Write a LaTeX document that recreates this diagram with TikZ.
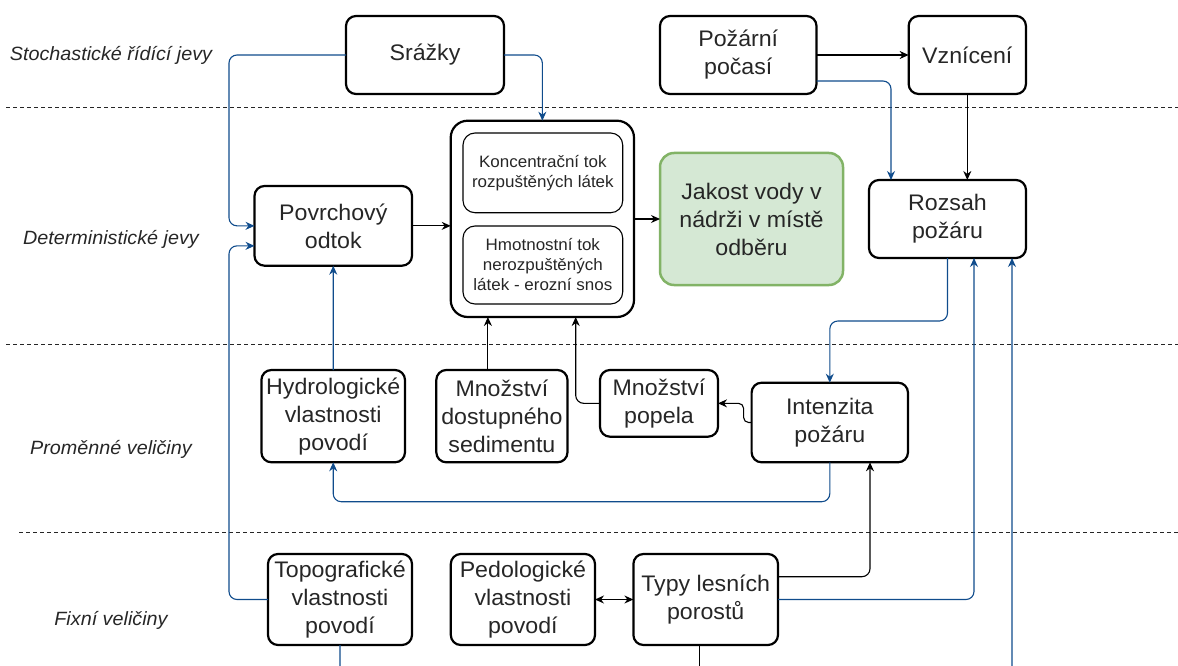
\documentclass[tikz,border=0pt]{standalone}
\usepackage{fontspec}
\setmainfont{Liberation Sans}[FakeStretch=1.03]
\usetikzlibrary{arrows.meta}
\definecolor{bl}{RGB}{16,76,140}
\definecolor{txt}{RGB}{38,38,38}
\definecolor{gfill}{HTML}{D5E8D4}
\definecolor{gline}{HTML}{82B366}
\begin{document}
\begin{tikzpicture}[x=1pt,y=-1pt,
  box/.style={draw=black, line width=2.2pt, rounded corners=10pt, inner sep=0pt, outer sep=0pt,
    align=center, text=txt, font=\fontsize{22.5}{28}\selectfont},
  inbox/.style={draw=black, line width=1.1pt, rounded corners=12pt, inner sep=0pt, outer sep=0pt,
    align=center, text=txt, font=\fontsize{16.5}{20}\selectfont},
  lbl/.style={text=txt, font=\fontsize{19.2}{22}\selectfont\itshape},
  blu/.style={draw=bl, line width=1.1pt, rounded corners=8pt, -{Stealth[length=9pt,width=8pt]}},
  blk/.style={draw=black, line width=1.1pt, rounded corners=8pt, -{Stealth[length=9pt,width=8pt]}},
  sep/.style={draw=black!85, line width=0.9pt, dash pattern=on 4pt off 3pt}]
\useasboundingbox (0,0) rectangle (1178,666);
\clip (0,0) rectangle (1178,666);

% separators
\draw[sep] (6,107) -- (1178,107);
\draw[sep] (6,344) -- (1178,344);
\draw[sep] (19,532) -- (1178,532);

% row labels
\node[lbl] (l1) at (111,55) {Stochastické řídící jevy};
\node[lbl] (l2) at (111,239) {Deterministické jevy};
\node[lbl] (l3) at (111,449) {Proměnné veličiny};
\node[lbl] (l4) at (111,620) {Fixní veličiny};

% nodes
\node[box, minimum width=158pt, minimum height=78pt] (srazky) at (425,55) {Srážky};
\node[box, minimum width=156.5pt, minimum height=78pt] (pozarni) at (738.25,55) {Požární\\počasí};
\node[box, minimum width=117.3pt, minimum height=78pt] (vzniceni) at (967.3,55) {Vznícení};
\node[box, minimum width=157.5pt, minimum height=79.7pt] (povrch) at (333.25,225.85) {Povrchový\\odtok};
\node[box, rounded corners=17pt, minimum width=183.3pt, minimum height=196.3pt] (cont) at (542.35,218.85) {};
\node[inbox, minimum width=159.7pt, minimum height=79.7pt] (in1) at (542.85,172.85) {Koncentrační tok\\rozpuštěných látek};
\node[inbox, minimum width=159.7pt, minimum height=78pt] (in2) at (542.85,265) {Hmotnostní tok\\nerozpuštěných\\látek - erozní snos};
\node[box, draw=gline, fill=gfill, line width=2.5pt, rounded corners=14pt, minimum width=183pt, minimum height=132pt] (jakost) at (751.5,219) {Jakost vody v\\nádrži v místě\\odběru};
\node[box, minimum width=157pt, minimum height=78pt] (rozsah) at (947.5,219) {Rozsah\\požáru};
\node[box, minimum width=143.6pt, minimum height=92.3pt] (hydro) at (333.2,416.15) {Hydrologické\\vlastnosti\\povodí};
\node[box, minimum width=131.2pt, minimum height=92.3pt] (sed) at (501.9,416.15) {Množství\\dostupného\\sedimentu};
\node[box, minimum width=118pt, minimum height=66.7pt] (popela) at (659,403.35) {Množství\\popela};
\node[box, minimum width=156.4pt, minimum height=79.6pt] (intenz) at (829.8,422.5) {Intenzita\\požáru};
\node[box, minimum width=144pt, minimum height=91pt] (topo) at (340,599.5) {Topografické\\vlastnosti\\povodí};
\node[box, minimum width=144.2pt, minimum height=91pt] (pedo) at (522.9,599.5) {Pedologické\\vlastnosti\\povodí};
\node[box, minimum width=144.6pt, minimum height=91pt] (typy) at (705.7,599.5) {Typy lesních\\porostů};

\coordinate (lx) at (229,0);
\coordinate (below) at (0,700);
\coordinate (pv2) at ([yshift=-20pt]povrch.west);

% connectors
\draw[blu] (srazky.east) -| (cont.north);
\draw[blu] (srazky.west) -| (lx |- povrch.west) -- (povrch.west);
\draw[blu] (topo.west) -| (lx |- pv2) -- (pv2);
\draw[blk] (povrch.east) -- (povrch.east -| cont.west);
\draw[blk] (cont.east |- jakost.west) -- (jakost.west);
\draw[blu] (hydro.north) -- (povrch.south);
\draw[blk] ([xshift=-14pt]sed.north) -- ([xshift=-14pt]sed.north |- cont.south);
\draw[blk] (popela.west) -| ([xshift=33.35pt]cont.south);
\draw[blk, rounded corners=5pt] (intenz.west) -- ++(-8,0) |- (popela.east);
\draw[blu] (intenz.south) -- ++(0,39.4) -| (hydro.south);
\draw[blk] ([yshift=22.8pt]typy.east) -| ([xshift=40.2pt]intenz.south);
\draw[blu] (typy.east) -| ([xshift=26.5pt]rozsah.south);
\draw[blu] (topo.south) -- (topo.south |- below) -| ([xshift=64.5pt]rozsah.south);
\draw[draw=black, line width=1.1pt] ([xshift=-6pt]typy.south) -- ([xshift=-6pt]typy.south |- below);
\draw[blu] (rozsah.south) -- ++(0,63) -| (intenz.north);
\draw[blk] (pozarni.east) -- (vzniceni.west);
\draw[blu] ([yshift=-26pt]pozarni.east) -| ([xshift=-56.5pt]rozsah.north);
\draw[blk] (vzniceni.south) -- (vzniceni.south |- rozsah.north);
\draw[blk, {Stealth[length=9pt,width=8pt]}-{Stealth[length=9pt,width=8pt]}] (pedo.east) -- (typy.west);
\end{tikzpicture}
\end{document}
